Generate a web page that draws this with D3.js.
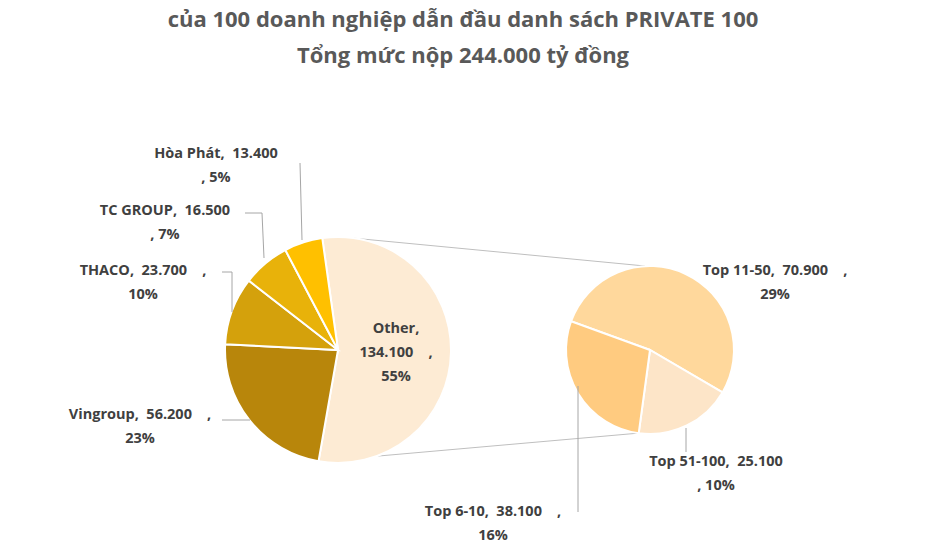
<!DOCTYPE html>
<html><head><meta charset="utf-8">
<script src="https://cdn.jsdelivr.net/npm/d3@7"></script>
<style>body{margin:0;background:#fff}text{font-family:"Open Sans",Arial,sans-serif;font-weight:bold;fill:#404040}</style>
</head><body><svg width="925" height="555"></svg>
<script>
var mainNames = ['Other', 'Vingroup', 'THACO', 'TC GROUP', 'Hòa Phát']
var mainValues = [134100, 56200, 23700, 16500, 13400]
var mainColors = ['#FDEBD4', '#B8860B', '#D4A10C', '#E8B20A', '#FFC000']
var subNames = ['Top 11-50', 'Top 51-100', 'Top 6-10']
var subValues = [70900, 25100, 38100]
var subColors = ['#FFD89C', '#FDE5C8', '#FFCB80']
var total = 244000

var svg = d3.select('svg')
svg.append('text').attr('x', 463).attr('y', 27).attr('text-anchor', 'middle').style('font-size', '22px').style('fill', '#595959')
    .text('của 100 doanh nghiệp dẫn đầu danh sách PRIVATE 100')
svg.append('text').attr('x', 463).attr('y', 63).attr('text-anchor', 'middle').style('font-size', '22px').style('fill', '#595959')
    .text('Tổng mức nộp 244.000 tỷ đồng')

var deg = Math.PI / 180
var fmt = function(v){ return d3.format(',')(v).replace(/,/g, '.') }
var pct = function(v){ return Math.round(v / total * 100) + '%' }

var mainPie = d3.pie().sort(null).value(function(d){ return d })
    .startAngle(-8 * deg).endAngle(352 * deg)
var subPie = d3.pie().sort(null).value(function(d){ return d })
    .startAngle(-70 * deg).endAngle(290 * deg)

// connector lines
var lines = [[352, 238, 645, 266], [322, 461, 640, 433]]
svg.selectAll('line.con').data(lines).enter().append('line')
    .attr('x1', function(d){ return d[0] }).attr('y1', function(d){ return d[1] })
    .attr('x2', function(d){ return d[2] }).attr('y2', function(d){ return d[3] })
    .attr('stroke', '#bfbfbf').attr('stroke-width', 1)

svg.append('g').attr('transform', 'translate(338,350)')
    .selectAll('path').data(mainPie(mainValues)).enter().append('path')
    .attr('d', d3.arc().innerRadius(0).outerRadius(113))
    .attr('fill', function(d, i){ return mainColors[i] })
    .attr('stroke', '#fff').attr('stroke-width', 2)

svg.append('g').attr('transform', 'translate(650,350)')
    .selectAll('path').data(subPie(subValues)).enter().append('path')
    .attr('d', d3.arc().innerRadius(0).outerRadius(84))
    .attr('fill', function(d, i){ return subColors[i] })
    .attr('stroke', '#fff').attr('stroke-width', 2)

// leader lines
var leaders = [
    'M300,163 L302,240', 'M245,213 L262,213 L264,258', 'M222,272 L232,272 L232,312',
    'M222,420 L250,420', 'M686,428 L686,452', 'M578,512 L578,386'
]
svg.selectAll('path.lead').data(leaders).enter().append('path')
    .attr('d', function(d){ return d }).attr('fill', 'none').attr('stroke', '#a6a6a6')

// labels: [text line1, line2, x, y, anchor]
var mLabels = [
    [mainNames[0] + ',', fmt(mainValues[0]) + '    ,', pct(mainValues[0]), 396, 333],
    [mainNames[1] + ',  ' + fmt(mainValues[1]) + '    ,', pct(mainValues[1]), null, 140, 419],
    [mainNames[2] + ',  ' + fmt(mainValues[2]) + '    ,', pct(mainValues[2]), null, 143, 275],
    [mainNames[3] + ',  ' + fmt(mainValues[3]), ', ' + pct(mainValues[3]), null, 165, 215],
    [mainNames[4] + ',  ' + fmt(mainValues[4]), ', ' + pct(mainValues[4]), null, 216, 158],
    [subNames[0] + ',  ' + fmt(subValues[0]) + '    ,', pct(subValues[0]), null, 775, 275],
    [subNames[1] + ',  ' + fmt(subValues[1]), ', ' + pct(subValues[1]), null, 716, 466],
    [subNames[2] + ',  ' + fmt(subValues[2]) + '    ,', pct(subValues[2]), null, 493, 516]
]
mLabels.forEach(function(l){
    var rows = [l[0], l[1], l[2]].filter(function(r){ return r !== null })
    var t = svg.append('text').attr('text-anchor', 'middle').style('font-size', '14.5px')
    rows.forEach(function(r, i){
        t.append('tspan').attr('x', l[3]).attr('y', l[4] + i * 24).text(r).attr('xml:space', 'preserve')
    })
})
</script></body></html>
